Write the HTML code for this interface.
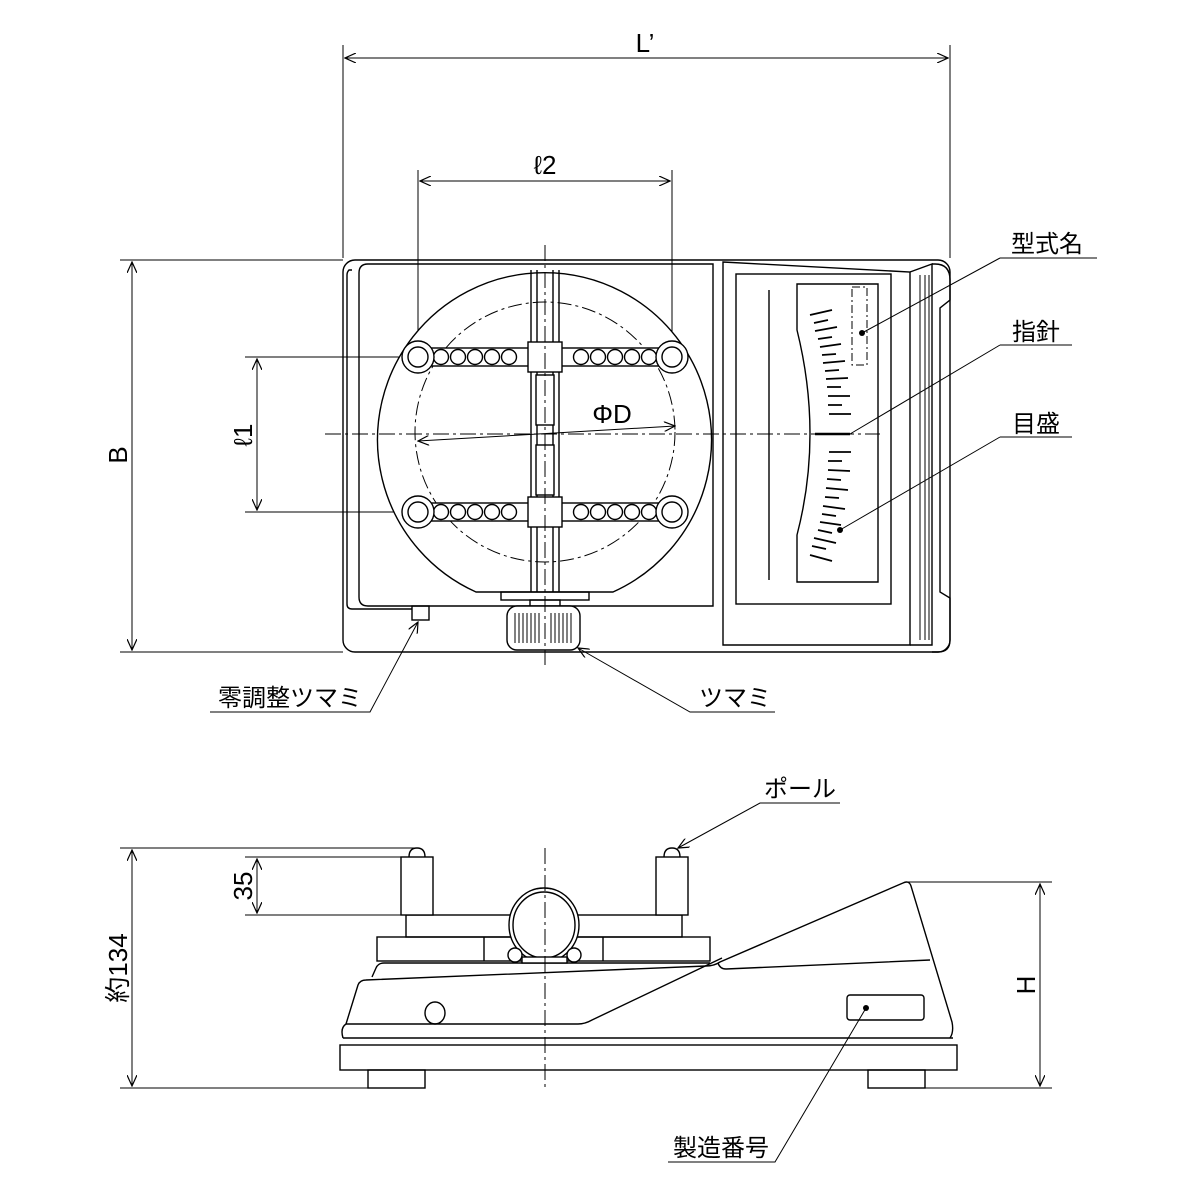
<!DOCTYPE html>
<html><head><meta charset="utf-8"><style>
html,body{margin:0;padding:0;background:#fff}
svg{display:block}
text{font-family:"Liberation Sans","Noto Sans CJK JP",sans-serif;fill:#000}
</style></head><body>
<svg width="1200" height="1200" viewBox="0 0 1200 1200" xmlns="http://www.w3.org/2000/svg">
<defs>
<marker id="a" viewBox="0 0 12 10" refX="11" refY="5" markerWidth="12" markerHeight="10" orient="auto-start-reverse" markerUnits="userSpaceOnUse">
<path d="M0,0 L11,5 L0,10" fill="none" stroke="#000" stroke-width="1.2"/></marker>
</defs>
<g fill="none" stroke="#000" stroke-width="1.4">
<line x1="343" y1="45" x2="343" y2="258" stroke-width="1"/>
<line x1="950" y1="45" x2="950" y2="258" stroke-width="1"/>
<line x1="345" y1="58" x2="948" y2="58" marker-start="url(#a)" marker-end="url(#a)" stroke-width="1"/>
<line x1="418" y1="170" x2="418" y2="357" stroke-width="1"/>
<line x1="672" y1="170" x2="672" y2="357" stroke-width="1"/>
<line x1="420" y1="181" x2="670" y2="181" marker-start="url(#a)" marker-end="url(#a)" stroke-width="1"/>
<line x1="120" y1="260" x2="343" y2="260" stroke-width="1"/>
<line x1="120" y1="652" x2="343" y2="652" stroke-width="1"/>
<line x1="132" y1="262" x2="132" y2="650" marker-start="url(#a)" marker-end="url(#a)" stroke-width="1"/>
<line x1="245" y1="357" x2="418" y2="357" stroke-width="1"/>
<line x1="245" y1="512" x2="418" y2="512" stroke-width="1"/>
<line x1="257" y1="359" x2="257" y2="510" marker-start="url(#a)" marker-end="url(#a)" stroke-width="1"/>

<rect x="343" y="260" width="607" height="392" rx="12"/>
<path d="M352,270 L349,270 Q347,272 347,275 L347,604 Q347,609 352,609 L412,609"/>
<path d="M368,264 L713,264 L713,606 L368,606 Q359,606 359,597 L359,273 Q359,264 368,264 Z"/>
<rect x="412" y="606" width="17" height="14"/>
<path d="M613,592 A167,167 0 1 0 476,592 Z" fill="#fff"/>
<circle cx="545" cy="432" r="130" stroke-dasharray="14,4,3,4" stroke-width="1"/>
<line x1="531" y1="270" x2="531" y2="592"/>
<line x1="537" y1="270" x2="537" y2="592"/>
<line x1="553" y1="270" x2="553" y2="592"/>
<line x1="559" y1="270" x2="559" y2="592"/>
<rect x="536" y="375" width="18" height="50" fill="#fff"/>
<rect x="536" y="445" width="18" height="50" fill="#fff"/>
<g id="bar">
<rect x="425" y="348" width="240" height="18" fill="#fff"/>
<rect x="528" y="342" width="34" height="30" fill="#fff"/>
<circle cx="441" cy="357" r="7.5"/><circle cx="458" cy="357" r="7.5"/><circle cx="475" cy="357" r="7.5"/><circle cx="492" cy="357" r="7.5"/><circle cx="509" cy="357" r="7.5"/>
<circle cx="581" cy="357" r="7.5"/><circle cx="598" cy="357" r="7.5"/><circle cx="615" cy="357" r="7.5"/><circle cx="632" cy="357" r="7.5"/><circle cx="649" cy="357" r="7.5"/>
<circle cx="418" cy="357" r="16" fill="#fff"/><circle cx="418" cy="357" r="10"/>
<circle cx="672" cy="357" r="16" fill="#fff"/><circle cx="672" cy="357" r="10"/>
</g>
<use href="#bar" y="155"/>
<rect x="501" y="592" width="88" height="8"/>
<rect x="530" y="600" width="30" height="8"/>
<rect x="507" y="606" width="73" height="44" rx="10" fill="#fff"/>
<g stroke-width="1"><path d="M515,613v30M519,613v30M523,613v30M527,613v30M531,613v30M535,613v30M539,613v30M551,613v30M555,613v30M559,613v30M563,613v30M567,613v30M571,613v30"/></g>
<g stroke-width="1" stroke-dasharray="16,4,3,4">
<line x1="545" y1="245" x2="545" y2="665"/>
<line x1="325" y1="434" x2="880" y2="434"/>
</g>
<line x1="418" y1="441" x2="675" y2="426" stroke-width="1" marker-start="url(#a)" marker-end="url(#a)"/>

<path d="M723,262 L910,272 L910,645 L723,645 Z"/>
<rect x="736" y="274" width="155" height="330"/>
<path d="M797,284 L878,284 L878,582 L797,582 L797,535 Q823,435 797,330 Z"/>
<line x1="769" y1="290" x2="769" y2="580"/>
<rect x="852" y="287" width="15" height="78" stroke-dasharray="8,3,2,3" stroke-width="1"/>
<path d="M910,272 L932,264 L932,645 L910,645"/>
<path d="M932,264 L935,264 Q950,264 950,280 L950,300 L940,308 L940,592 L950,598 L950,640 Q950,652 938,652 L932,652"/>
<g stroke-width="1"><line x1="920" y1="275" x2="920" y2="640"/><line x1="925" y1="275" x2="925" y2="640"/><line x1="929" y1="275" x2="929" y2="640"/></g>
<line x1="815" y1="434" x2="850" y2="434" stroke-width="2.5"/>
<g stroke-width="1.8">
<path d="M810,315l22,-5M814,323l14,-3M815,331l22,-4M818,339l14,-2M820,347l21,-3M822,355l14,-1M823,363l22,-2M825,371l14,-1M826,379l22,-1M827,387l14,0M828,396l22,0M828,405l14,0M829,414l22,0"/>
<path d="M829,452l22,0M828,461l14,0M828,470l22,1M827,479l14,1M826,488l22,2M825,497l14,1M823,506l22,3M822,514l14,2M820,522l21,3M818,530l14,3M814,538l22,5M812,546l14,3M810,555l22,6"/>
</g>

<g stroke-width="1">
<path d="M1000,258 L1097,258 M1000,258 L862,333"/>
<path d="M1000,345 L1072,345 M1000,345 L850,434"/>
<path d="M1000,437 L1072,437 M1000,437 L840,530"/>
<path d="M210,712 L370,712 L418,622" marker-end="url(#a)"/>
<path d="M775,712 L690,712 L578,648" marker-end="url(#a)"/>
<path d="M840,803 L760,803 L678,848" marker-end="url(#a)"/>
<path d="M668,1162 L775,1162 L866,1008"/>
</g>
<g fill="#000" stroke="none"><circle cx="862" cy="333" r="3"/><circle cx="840" cy="530" r="3"/><circle cx="866" cy="1008" r="3"/></g>

<g stroke-width="1">
<line x1="120" y1="848" x2="418" y2="848"/>
<line x1="245" y1="857" x2="410" y2="857"/>
<line x1="245" y1="915" x2="410" y2="915"/>
<line x1="120" y1="1088" x2="368" y2="1088"/>
<line x1="132" y1="850" x2="132" y2="1086" marker-start="url(#a)" marker-end="url(#a)"/>
<line x1="257" y1="859" x2="257" y2="913" marker-start="url(#a)" marker-end="url(#a)"/>
<line x1="905" y1="882" x2="1052" y2="882"/>
<line x1="925" y1="1088" x2="1052" y2="1088"/>
<line x1="1040" y1="884" x2="1040" y2="1086" marker-start="url(#a)" marker-end="url(#a)"/>
</g>
<rect x="368" y="1070" width="57" height="18"/>
<rect x="868" y="1070" width="57" height="18"/>
<rect x="340" y="1045" width="617" height="25"/>
<line x1="343" y1="1038" x2="953" y2="1038"/>
<path d="M343,1038 Q340,1028 346,1024 L358,985 Q360,980 366,980 L706,966 Q714,966 720,962 L903,883 Q909,880 911,886 L952,1022 Q954,1032 950,1038"/>
<path d="M346,1024 L578,1024 Q585,1024 592,1020 L722,958"/>
<path d="M718,963 Q720,969 726,969 L930,960"/>
<path d="M372,977 L376,968 Q378,963 384,963 L710,963"/>
<ellipse cx="435" cy="1013" rx="10" ry="11"/>
<rect x="847" y="995" width="77" height="25" rx="3"/>
<rect x="377" y="937" width="333" height="24" fill="#fff"/>
<line x1="484" y1="937" x2="484" y2="961"/><line x1="603" y1="937" x2="603" y2="961"/>
<rect x="406" y="915" width="276" height="22"/>
<rect x="401" y="857" width="32" height="58" fill="#fff"/>
<rect x="656" y="857" width="32" height="58" fill="#fff"/>
<path d="M409,857 Q409,848 417,848 Q425,848 425,857"/>
<path d="M664,857 Q664,848 672,848 Q680,848 680,857"/>
<ellipse cx="544" cy="925" rx="35" ry="37" fill="#fff"/>
<ellipse cx="544" cy="925" rx="31" ry="33"/>
<circle cx="515" cy="955" r="7" fill="#fff"/><circle cx="574" cy="955" r="7" fill="#fff"/>
<rect x="522" y="957" width="45" height="6" fill="#fff"/>
</g>
<g stroke="#000" stroke-width="1" stroke-dasharray="16,4,3,4"><line x1="545" y1="848" x2="545" y2="1090"/></g>

<g font-size="26">
<text x="645" y="52" text-anchor="middle">L’</text>
<text x="545" y="174" text-anchor="middle">ℓ2</text>
<text x="612" y="423" text-anchor="middle">ΦD</text>
<text transform="translate(127,455) rotate(-90)" text-anchor="middle">B</text>
<text transform="translate(252,435) rotate(-90)" text-anchor="middle">ℓ1</text>
<text transform="translate(252,886) rotate(-90)" text-anchor="middle">35</text>
<text transform="translate(127,968) rotate(-90)" text-anchor="middle">約134</text>
<text transform="translate(1035,985) rotate(-90)" text-anchor="middle">H</text>
</g>
<g font-size="24">
<text x="1047" y="252" text-anchor="middle">型式名</text>
<text x="1036" y="340" text-anchor="middle">指針</text>
<text x="1036" y="432" text-anchor="middle">目盛</text>
<text x="290" y="706" text-anchor="middle">零調整ツマミ</text>
<text x="735" y="706" text-anchor="middle">ツマミ</text>
<text x="800" y="797" text-anchor="middle">ポール</text>
<text x="721" y="1156" text-anchor="middle">製造番号</text>
</g>
</svg>
</body></html>
